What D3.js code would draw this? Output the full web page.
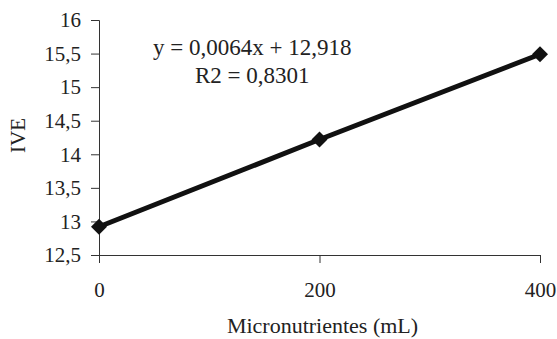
<!DOCTYPE html>
<html lang="en">
<head>
<meta charset="UTF-8">
<title>IVE vs Micronutrientes</title>
<script src="https://cdn.jsdelivr.net/npm/d3@7"></script>
<style>
  body { margin: 0; background: #fff; }
  text { font-family: "Liberation Serif", "Times New Roman", serif; fill: #222; }
</style>
</head>
<body>
<svg></svg>
<script>
  var doses = [0, 200, 400];
  var ive = [12.92, 14.22, 15.49];
  var xTicks = [0, 200, 400];
  var yTicks = [12.5, 13, 13.5, 14, 14.5, 15, 15.5, 16];
  var equation = 'y = 0,0064x + 12,918';
  var r2 = 'R2 = 0,8301';

  var margin = { top: 20, left: 99, bottom: 84, right: 17 };
  var W = 557, H = 339;
  var width = W - margin.left - margin.right;
  var height = H - margin.top - margin.bottom;

  var svg = d3.select('svg')
    .attr('width', W)
    .attr('height', H)
    .append('g')
    .attr('transform', 'translate(' + margin.left + ',' + margin.top + ')');

  var x = d3.scaleLinear().domain([0, 400]).range([0, width]);
  var y = d3.scaleLinear().domain([12.5, 16]).range([height, 0]);

  var comma = function (d) { return String(d).replace('.', ','); };

  var gx = svg.append('g')
    .attr('transform', 'translate(0,' + height + ')')
    .call(d3.axisBottom(x).tickValues(xTicks).tickSize(8).tickPadding(19).tickFormat(comma));

  var gy = svg.append('g')
    .call(d3.axisLeft(y).tickValues(yTicks).tickSize(8).tickPadding(10).tickFormat(comma));

  [gx, gy].forEach(function (g) {
    g.select('.domain').attr('stroke', '#333');
    g.selectAll('.tick line').attr('stroke', '#333');
    g.selectAll('text').attr('font-size', 21).attr('font-family', '"Liberation Serif", serif').attr('fill', '#222');
  });

  svg.append('text')
    .attr('transform', 'translate(' + (-81) + ',' + (height / 2 - 2) + ') rotate(-90)')
    .attr('text-anchor', 'middle')
    .attr('dy', '0.35em')
    .attr('font-size', 21)
    .text('IVE');

  svg.append('text')
    .attr('x', width / 2 + 3)
    .attr('y', height + 78)
    .attr('text-anchor', 'middle')
    .attr('font-size', 22)
    .text('Micronutrientes (mL)');

  var pts = doses.map(function (d, i) { return [d, ive[i]]; });

  svg.append('path')
    .datum(pts)
    .attr('fill', 'none')
    .attr('stroke', '#111')
    .attr('stroke-width', 5)
    .attr('stroke-linejoin', 'round')
    .attr('d', d3.line().x(function (d) { return x(d[0]); }).y(function (d) { return y(d[1]); }));

  svg.selectAll('.pt')
    .data(pts)
    .enter().append('path')
    .attr('class', 'pt')
    .attr('fill', '#111')
    .attr('transform', function (d) { return 'translate(' + x(d[0]) + ',' + y(d[1]) + ')'; })
    .attr('d', 'M0,-8L8,0L0,8L-8,0Z');

  svg.append('text')
    .attr('x', x(139))
    .attr('y', y(15.48))
    .attr('text-anchor', 'middle')
    .attr('font-size', 23)
    .text(equation);

  svg.append('text')
    .attr('x', x(139))
    .attr('y', y(15.06))
    .attr('text-anchor', 'middle')
    .attr('font-size', 23)
    .text(r2);
</script>
</body>
</html>
